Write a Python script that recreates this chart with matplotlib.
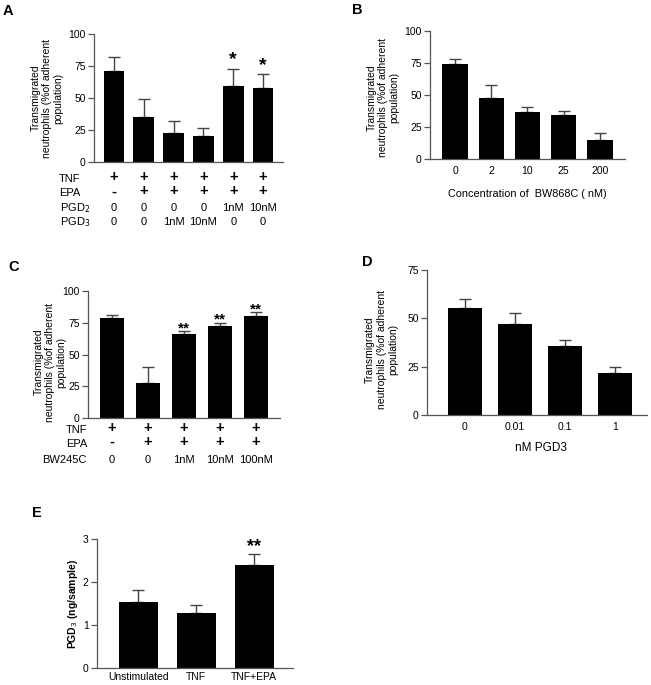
import matplotlib
matplotlib.use("Agg")
import matplotlib.pyplot as plt
import numpy as np

plt.rcParams['font.family'] = ['Liberation Sans', 'DejaVu Sans']

# panel A
a_vals = [71, 35, 23, 20, 59.5, 58]
a_err = [11, 14, 9, 6.5, 13.5, 11]
a_stars = ['', '', '', '', '*', '*']
a_tnf = ['+', '+', '+', '+', '+', '+']
a_epa = ['-', '+', '+', '+', '+', '+']
a_pgd2 = ['0', '0', '0', '0', '1nM', '10nM']
a_pgd3 = ['0', '0', '1nM', '10nM', '0', '0']

# panel B
b_labels = ['0', '2', '10', '25', '200']
b_vals = [74.5, 48, 37, 34, 15]
b_err = [4, 9.5, 4, 3.5, 5]

# panel C
c_vals = [78.5, 27.5, 66, 72.5, 80]
c_err = [2.5, 12.5, 2.5, 2.5, 3.5]
c_stars = ['', '', '**', '**', '**']
c_tnf = ['+', '+', '+', '+', '+']
c_epa = ['-', '+', '+', '+', '+']
c_bw = ['0', '0', '1nM', '10nM', '100nM']

# panel D
d_labels = ['0', '0.01', '0.1', '1']
d_vals = [55.5, 47, 35.5, 21.5]
d_err = [4.5, 6, 3.5, 3.5]

# panel E
e_labels = ['Unstimulated', 'TNF', 'TNF+EPA']
e_vals = [1.54, 1.27, 2.4]
e_err = [0.28, 0.2, 0.26]
e_stars = ['', '', '**']

ylab = 'Transmigrated\nneutrophils (%of adherent\npopulation)'
axcol = '#555555'
fs = 7.5

fig = plt.figure(figsize=(6.51, 6.85), dpi=100)
W, H = 651, 685


def make_ax(l, r, t, b):
    return fig.add_axes([l / W, 1 - b / H, (r - l) / W, (b - t) / H])


def bars(ax, vals, err, xlim, ylim, yticks, width=0.7):
    x = np.arange(len(vals))
    ax.bar(x, vals, width=width, color='black', zorder=2)
    ax.errorbar(x, vals, yerr=[np.zeros(len(err)), err], fmt='none',
                ecolor='#444444', elinewidth=1, capsize=4.5, capthick=1, zorder=1)
    ax.set_xlim(xlim)
    ax.set_ylim(ylim)
    ax.set_yticks(yticks)
    for s in ['top', 'right']:
        ax.spines[s].set_visible(False)
    for s in ['left', 'bottom']:
        ax.spines[s].set_color(axcol)
        ax.spines[s].set_linewidth(0.9)
    ax.tick_params(axis='y', direction='out', length=4, width=0.9, color=axcol,
                   labelsize=fs, pad=2)
    ax.tick_params(axis='x', length=0, labelsize=fs, pad=5)
    return x


def stars(ax, x, vals, err, marks, size, off):
    for xi, v, e, m in zip(x, vals, err, marks):
        if m:
            ax.annotate(m, (xi, v + e), xytext=(0, off), textcoords='offset points',
                        ha='center', va='bottom', fontsize=size, fontweight='bold')


def ylabel(ax, text, x, y=0.5, **kw):
    ax.text(x, y, text, transform=ax.transAxes, rotation=90, ha='center',
            va='center', multialignment='center', fontsize=fs, linespacing=1.2, **kw)


# A
axA = make_ax(94, 283, 34, 162)
x = bars(axA, a_vals, a_err, (-0.67, 5.67), (0, 100), [0, 25, 50, 75, 100])
axA.set_xticks([])
stars(axA, x, a_vals, a_err, a_stars, 14, 0)
ylabel(axA, ylab, -0.249)
tr = axA.get_xaxis_transform()
for row, yy in [(a_tnf, -0.12), (a_epa, -0.23)]:
    for xi, s in zip(x, row):
        axA.text(xi, yy, s, transform=tr, ha='center', va='center', fontsize=10.5,
                 fontweight='bold')
for row, yy in [(a_pgd2, -0.36), (a_pgd3, -0.47)]:
    for xi, s in zip(x, row):
        axA.text(xi, yy, s, transform=tr, ha='center', va='center', fontsize=8)
axA.text(-0.185, -0.135, 'TNF', transform=axA.transAxes, ha='left', va='center', fontsize=8)
axA.text(-0.185, -0.245, 'EPA', transform=axA.transAxes, ha='left', va='center', fontsize=8)
axA.text(-0.18, -0.36, 'PGD$_2$', transform=axA.transAxes, ha='left', va='center', fontsize=8)
axA.text(-0.18, -0.47, 'PGD$_3$', transform=axA.transAxes, ha='left', va='center', fontsize=8)

# B
axB = make_ax(430, 625, 31, 159)
x = bars(axB, b_vals, b_err, (-0.69, 4.69), (0, 100), [0, 25, 50, 75, 100])
axB.set_xticks(x)
axB.set_xticklabels(b_labels)
ylabel(axB, ylab, -0.241, 0.48)
axB.text(0.5, -0.27, 'Concentration of  BW868C ( nM)', transform=axB.transAxes,
         ha='center', va='center', fontsize=7.8)

# C
axC = make_ax(88, 280, 291, 418)
x = bars(axC, c_vals, c_err, (-0.67, 4.67), (0, 100), [0, 25, 50, 75, 100], width=0.67)
axC.set_xticks([])
stars(axC, x, c_vals, c_err, c_stars, 11, -3)
ylabel(axC, ylab, -0.198, 0.44)
tr = axC.get_xaxis_transform()
for row, yy in [(c_tnf, -0.08), (c_epa, -0.19)]:
    for xi, s in zip(x, row):
        axC.text(xi, yy, s, transform=tr, ha='center', va='center', fontsize=10.5,
                 fontweight='bold')
for xi, s in zip(x, c_bw):
    axC.text(xi, -0.33, s, transform=tr, ha='center', va='center', fontsize=8)
axC.text(-0.115, -0.095, 'TNF', transform=axC.transAxes, ha='left', va='center', fontsize=8)
axC.text(-0.115, -0.205, 'EPA', transform=axC.transAxes, ha='left', va='center', fontsize=8)
axC.text(-0.24, -0.33, 'BW245C', transform=axC.transAxes, ha='left', va='center', fontsize=8)

# D
axD = make_ax(427, 647, 270, 415)
x = bars(axD, d_vals, d_err, (-0.76, 3.64), (0, 75), [0, 25, 50, 75], width=0.68)
axD.set_xticks(x)
axD.set_xticklabels(d_labels)
ylabel(axD, ylab, -0.205, 0.45)
axD.text(0.52, -0.228, 'nM PGD3', transform=axD.transAxes, ha='center', va='center',
         fontsize=8.5)

# E
axE = make_ax(97, 293, 539, 668)
x = bars(axE, e_vals, e_err, (-0.71, 2.67), (0, 3), [0, 1, 2, 3], width=0.67)
axE.set_xticks(x)
axE.set_xticklabels(e_labels)
axE.tick_params(axis='x', pad=3)
stars(axE, x, e_vals, e_err, e_stars, 13, -1)
ylabel(axE, 'PGD$_3$ (ng/sample)', -0.125, 0.5, fontweight='bold')

# panel letters
for lx, ly, s in [(3, 11, 'A'), (352, 10, 'B'), (8, 267, 'C'), (362, 262, 'D'), (32, 513, 'E')]:
    fig.text(lx / W, 1 - ly / H, s, ha='left', va='center', fontsize=10.5, fontweight='bold')

fig.savefig('out.png', dpi=100)
